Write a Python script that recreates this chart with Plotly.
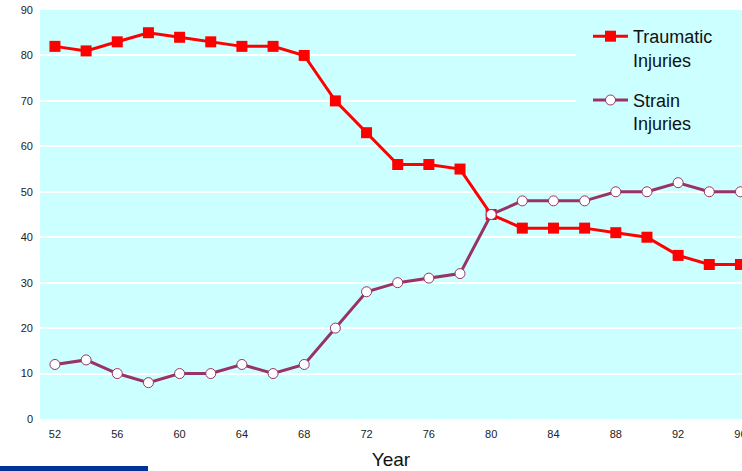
import plotly.graph_objects as go

years = [52, 54, 56, 58, 60, 62, 64, 66, 68, 70, 72, 74, 76, 78, 80, 82, 84, 86, 88, 90, 92, 94, 96]
traumatic = [82, 81, 83, 85, 84, 83, 82, 82, 80, 70, 63, 56, 56, 55, 45, 42, 42, 42, 41, 40, 36, 34, 34]
strain = [12, 13, 10, 8, 10, 10, 12, 10, 12, 20, 28, 30, 31, 32, 45, 48, 48, 48, 50, 50, 52, 50, 50]
x_ticks = [52, 56, 60, 64, 68, 72, 76, 80, 84, 88, 92, 96]
y_ticks = [0, 10, 20, 30, 40, 50, 60, 70, 80, 90]

fig = go.Figure()
fig.add_trace(go.Scatter(
    x=years, y=traumatic, mode="lines+markers", name="Traumatic<br>Injuries",
    legendgroup="a",
    line=dict(color="#FF0000", width=3),
    marker=dict(symbol="square", size=11, color="#FF0000", line=dict(color="#FF0000", width=0)),
))
fig.add_trace(go.Scatter(
    x=years, y=strain, mode="lines+markers", name="Strain<br>Injuries",
    legendgroup="b",
    line=dict(color="#993366", width=3),
    marker=dict(symbol="circle", size=10, color="white", line=dict(color="#993366", width=1)),
))

fig.update_layout(
    width=742, height=471,
    margin=dict(l=40, r=0, t=10, b=52),
    paper_bgcolor="white",
    plot_bgcolor="#CCFFFF",
    font=dict(family="Liberation Sans, Arial, sans-serif", color="#222222"),
    showlegend=True,
    legend=dict(
        x=(588 - 40) / 702, y=(419 - 18) / 409, xanchor="left", yanchor="top",
        bgcolor="rgba(0,0,0,0)", borderwidth=0,
        font=dict(size=18, color="#111111"),
        itemwidth=35, traceorder="grouped", tracegroupgap=14, valign="top",
    ),
    xaxis=dict(
        range=[51.04, 96.1], tickvals=x_ticks, ticktext=[str(v) for v in x_ticks],
        showgrid=False, zeroline=False, showline=False, ticks="", automargin=False,
        ticklabelstandoff=7, ticklabeloverflow="allow",
        tickfont=dict(size=11, color="#222222"),
        title=dict(text="Year", font=dict(size=19, color="#111111"), standoff=13),
    ),
    yaxis=dict(
        range=[0, 90], tickvals=y_ticks, automargin=False,
        showgrid=True, gridcolor="white", gridwidth=2, zeroline=False, showline=False, ticks="",
        ticklabelstandoff=6,
        tickfont=dict(size=11, color="#222222"),
    ),
    shapes=[
        dict(type="rect", xref="paper", yref="y", x0=(576 - 40) / 702, x1=1.0,
             y0=62, y1=90, fillcolor="#CCFFFF", line=dict(width=0), layer="above"),
        dict(type="rect", xref="paper", yref="paper", x0=-40 / 702, x1=108 / 702,
             y0=-52 / 409, y1=-47 / 409, fillcolor="#003399", line=dict(width=0), layer="above"),
    ],
)

fig.write_html(
    "out.html",
    config={"displayModeBar": False},
    post_script="document.body.style.margin='0';document.body.style.overflow='hidden';",
)
